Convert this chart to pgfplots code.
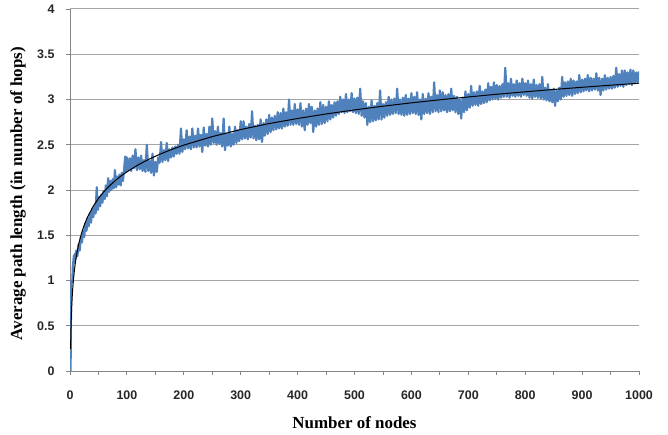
\documentclass[border=0pt]{standalone}
\usepackage{fontspec}
\setmainfont{Liberation Serif}
\newfontfamily\tickfont{Liberation Sans}
\usepackage{pgfplots}
\usepackage{pgfplotstable}
\pgfplotsset{compat=1.18}
\definecolor{exblue}{RGB}{79,129,189}
\definecolor{gridgray}{RGB}{165,165,165}
\definecolor{axgray}{RGB}{134,134,134}
\pgfplotstableread{
x y
1 0
2 0.97
3 1.0
4 0.98
5 1.15
6 1.22
7 1.28
8 1.2
9 1.3
10 1.24
11 1.33
13 1.27
15 1.40
17 1.33
19 1.48
21 1.42
23 1.55
25 1.48
27 1.63
29 1.55
31 1.69
33 1.60
35 1.74
37 1.64
39 1.79
41 1.70
43 1.82
45 1.74
47 2.03
49 1.78
51 1.92
53 1.82
55 1.95
57 1.86
59 1.99
61 1.90
63 2.05
65 1.93
67 2.13
69 1.98
71 2.10
73 2.00
75 2.12
77 2.02
79 2.22
81 2.03
83 2.15
85 2.06
87 2.17
89 2.05
91 2.19
93 2.10
95 2.22
97 2.37
99 2.20
100 2.36
102.5 2.22
105 2.35
107.5 2.21
110 2.38
112.5 2.24
115 2.45
117.5 2.22
120 2.36
122.5 2.23
125 2.38
127.5 2.21
130 2.33
132.5 2.20
135 2.50
137.5 2.21
140 2.32
142.5 2.19
145 2.40
147.5 2.16
150 2.31
152.5 2.20
155 2.36
157.5 2.30
160 2.53
162.5 2.31
165 2.44
167.5 2.33
170 2.52
172.5 2.32
175 2.45
177.5 2.36
180 2.47
182.5 2.37
185 2.48
187.5 2.40
190 2.50
192.5 2.40
195 2.68
197.5 2.42
200 2.56
202.5 2.45
205 2.66
207.5 2.46
210 2.59
212.5 2.45
215 2.68
217.5 2.47
220 2.60
222.5 2.47
225 2.68
227.5 2.48
230 2.61
232.5 2.42
235 2.69
237.5 2.49
240 2.62
242.5 2.48
245 2.70
247.5 2.50
250 2.79
252.5 2.52
255 2.65
257.5 2.50
260 2.70
262.5 2.51
265 2.63
267.5 2.48
270 2.79
272.5 2.44
275 2.62
277.5 2.49
280 2.70
282.5 2.48
285 2.62
287.5 2.50
290 2.70
292.5 2.52
295 2.66
297.5 2.54
300 2.76
302.5 2.56
305 2.76
307.5 2.57
310 2.70
312.5 2.56
315 2.73
317.5 2.58
320 2.87
322.5 2.57
325 2.71
327.5 2.55
330 2.72
332.5 2.56
335 2.78
337.5 2.53
340 2.74
342.5 2.60
345 2.78
347.5 2.62
350 2.83
352.5 2.64
355 2.80
357.5 2.66
360 2.82
362.5 2.67
365 2.86
367.5 2.68
370 2.85
372.5 2.68
375 2.90
377.5 2.70
380 2.86
382.5 2.71
385 3.00
387.5 2.72
390 2.88
392.5 2.72
395 2.95
397.5 2.73
400 2.89
402.5 2.72
405 2.96
407.5 2.70
410 2.88
412.5 2.66
415 2.90
417.5 2.72
420 2.95
422.5 2.74
425 2.92
427.5 2.64
430 2.88
432.5 2.70
435 2.90
437.5 2.72
440 2.97
442.5 2.73
445 2.94
447.5 2.74
450 2.92
452.5 2.76
455 2.98
457.5 2.78
460 2.94
462.5 2.80
465 2.97
467.5 2.82
470 2.98
472.5 2.84
475 3.03
477.5 2.86
480 3.00
482.5 2.85
485 3.06
487.5 2.86
490 3.00
492.5 2.87
495 3.07
497.5 2.86
500 3.01
502.5 2.85
505 3.02
507.5 2.84
510 3.12
512.5 2.82
515 2.98
517.5 2.80
520 2.96
522.5 2.72
525 2.92
527.5 2.75
530 2.99
532.5 2.76
535 2.93
537.5 2.77
540 2.96
542.5 2.78
545 3.10
547.5 2.78
550 2.95
552.5 2.80
555 2.97
557.5 2.82
560 3.03
562.5 2.83
565 3.00
567.5 2.84
570 3.01
572.5 2.85
575 3.12
577.5 2.84
580 3.00
582.5 2.83
585 3.02
587.5 2.82
590 3.05
592.5 2.83
595 3.01
597.5 2.84
600 3.07
602.5 2.85
605 3.03
607.5 2.84
610 3.08
612.5 2.83
615 3.00
617.5 2.78
620 3.06
622.5 2.84
625 3.01
627.5 2.85
630 3.07
632.5 2.84
635 3.03
637.5 2.86
640 3.19
642.5 2.87
645 3.05
647.5 2.86
650 3.10
652.5 2.87
655 3.08
657.5 2.88
660 3.05
662.5 2.86
665 3.06
667.5 2.87
670 3.12
672.5 2.88
675 3.04
677.5 2.86
680 3.03
682.5 2.84
685 3.00
687.5 2.79
690 3.02
692.5 2.86
695 3.09
697.5 2.88
700 3.06
702.5 2.91
705 3.15
707.5 2.93
710 3.08
712.5 2.94
715 3.09
717.5 2.93
720 3.15
722.5 2.95
725 3.09
727.5 2.96
730 3.11
732.5 2.97
735 3.18
737.5 2.99
740 3.14
742.5 3.00
745 3.19
747.5 3.01
750 3.16
752.5 3.00
755 3.15
757.5 3.02
760 3.17
762.5 3.03
765 3.35
767.5 3.03
770 3.18
772.5 3.02
775 3.23
777.5 3.04
780 3.17
782.5 3.03
785 3.21
787.5 3.04
790 3.18
792.5 3.03
795 3.23
797.5 3.05
800 3.18
802.5 3.04
805 3.21
807.5 3.02
810 3.17
812.5 3.01
815 3.22
817.5 3.03
820 3.16
822.5 3.02
825 3.17
827.5 3.01
830 3.25
832.5 3.00
835 3.13
837.5 2.99
840 3.17
842.5 2.98
845 3.11
847.5 2.97
850 3.12
852.5 2.93
855 3.10
857.5 2.98
860 3.13
862.5 3.00
865 3.25
867.5 3.03
870 3.19
872.5 3.04
875 3.20
877.5 3.05
880 3.23
882.5 3.04
885 3.21
887.5 3.06
890 3.20
892.5 3.07
895 3.27
897.5 3.08
900 3.22
902.5 3.09
905 3.23
907.5 3.10
910 3.27
912.5 3.09
915 3.24
917.5 3.10
920 3.23
922.5 3.11
925 3.29
927.5 3.10
930 3.24
932.5 3.05
935 3.23
937.5 3.10
940 3.27
942.5 3.11
945 3.24
947.5 3.12
950 3.25
952.5 3.12
955 3.26
957.5 3.13
960 3.35
962.5 3.14
965 3.28
967.5 3.15
970 3.32
972.5 3.14
975 3.32
977.5 3.16
980 3.30
982.5 3.17
985 3.33
987.5 3.16
990 3.32
992.5 3.18
995 3.30
997.5 3.19
1000 3.31
}\measured
\pgfplotstableread{
x y
1 0.244
2 0.539
3 0.711
4 0.833
5 0.928
6 1.006
8 1.128
10 1.223
12 1.300
15 1.395
20 1.517
25 1.612
30 1.690
40 1.812
50 1.907
60 1.984
70 2.050
80 2.106
90 2.157
100 2.201
120 2.279
140 2.344
160 2.401
180 2.451
200 2.496
250 2.590
300 2.668
350 2.734
400 2.790
450 2.840
500 2.885
550 2.926
600 2.963
650 2.997
700 3.028
750 3.058
800 3.085
850 3.111
900 3.135
950 3.158
1000 3.180
}\trend
\begin{document}
\begin{tikzpicture}
\begin{axis}[
  scale only axis, width=569bp, height=362bp,
  xmin=0, xmax=1000, ymin=0, ymax=4,
  axis x line*=bottom, axis y line*=left,
  axis line style={axgray, line width=0.9bp},
  xtick={0,100,...,1000}, minor xtick={50,150,...,950},
  ytick={0,0.5,1,1.5,2,2.5,3,3.5,4},
  ymajorgrids, grid style={gridgray, line width=1bp},
  tick align=outside, major tick length=4bp, minor tick length=4bp,
  tick style={axgray, line width=0.9bp},
  /pgf/number format/assume math mode=true,
  /pgf/number format/1000 sep={},
  tick label style={font=\tickfont\bfseries\fontsize{12.5}{14}\selectfont, color=black!85},
  xticklabel style={yshift=-12bp},
  yticklabel style={xshift=-8bp},
  xlabel={Number of nodes},
  ylabel={Average path length (in number of hops)},
  label style={font=\bfseries\fontsize{17}{20}\selectfont},
  xlabel style={at={(axis description cs:0.5,-0.1436)}, anchor=center},
  ylabel style={at={(axis description cs:-0.0914,0.49)}, anchor=center},
]
\addplot[exblue, line width=2.2bp, line join=round] table[x=x, y=y] {\measured};
\addplot[black, line width=1bp, line join=round] table[x=x, y=y] {\trend};
\end{axis}
\path ([shift={(-70bp,-64bp)}]current axis.south west) rectangle ([shift={(29bp,9bp)}]current axis.north east);
\end{tikzpicture}
\end{document}
